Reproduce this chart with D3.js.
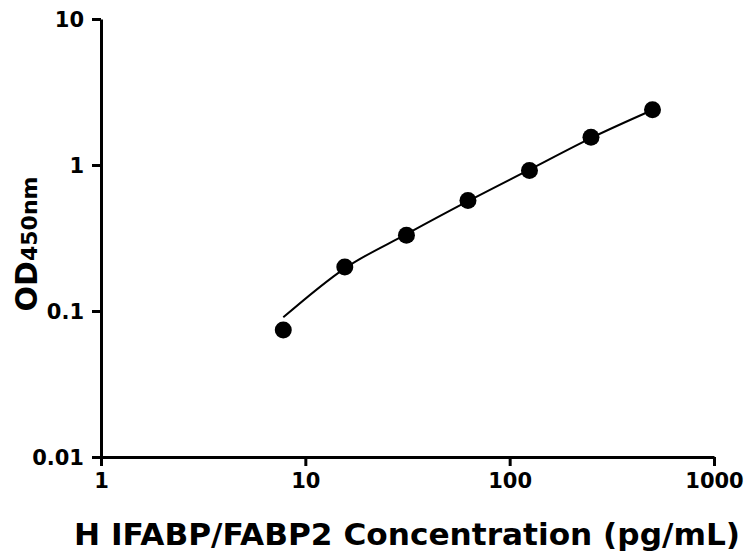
<!DOCTYPE html>
<html>
<head>
<meta charset="utf-8">
<script src="https://cdn.jsdelivr.net/npm/d3@7"></script>
<style>
  body { margin: 0; background: #fff; }
  text { font-family: "DejaVu Sans", sans-serif; font-weight: bold; fill: #000; }
</style>
</head>
<body>
<svg id="chart"></svg>
<script>
// standard concentrations (pg/mL) and measured OD450
const concentration = [7.8, 15.6, 31.25, 62.5, 125, 250, 500];
const od = [0.074, 0.200, 0.330, 0.572, 0.918, 1.55, 2.39];
// fitted curve
const curveX = [7.8, 15.6, 31.25, 62.5, 125, 250, 500];
const curveY = [0.0905, 0.196, 0.336, 0.565, 0.93, 1.53, 2.38];
const xTicks = [1, 10, 100, 1000];
const yTicks = [0.01, 0.1, 1, 10];

const width = 745, height = 553;
const margin = { top: 19, right: 31, bottom: 96, left: 101 };

const svg = d3.select("#chart").attr("width", width).attr("height", height);

const x = d3.scaleLog().domain([1, 1000]).range([margin.left, width - margin.right]);
const y = d3.scaleLog().domain([0.01, 10]).range([height - margin.bottom, margin.top]);

// 坐标轴
const xAxis = svg.append("g")
    .attr("transform", `translate(0,${height - margin.bottom})`)
    .call(d3.axisBottom(x).tickValues(xTicks).tickFormat(d3.format("d")).tickSize(9).tickSizeOuter(0).tickPadding(7));
const yAxis = svg.append("g")
    .attr("transform", `translate(${margin.left},0)`)
    .call(d3.axisLeft(y).tickValues(yTicks).tickFormat(d => String(d)).tickSize(9).tickSizeOuter(0).tickPadding(8));

[xAxis, yAxis].forEach(g => {
    g.select(".domain").attr("stroke", "#000").attr("stroke-width", 3);
    g.selectAll(".tick line").attr("stroke", "#000").attr("stroke-width", 3);
    g.selectAll(".tick text").attr("font-size", 21).attr("font-family", "DejaVu Sans").attr("font-weight", "bold").attr("fill", "#000");
});
yAxis.selectAll(".tick text").attr("dy", "0.36em");

// 拟合曲线
const line = d3.line()
    .x(d => x(d[0]))
    .y(d => y(d[1]))
    .curve(d3.curveMonotoneX);

svg.append("path")
    .datum(curveX.map((c, i) => [c, curveY[i]]))
    .attr("fill", "none")
    .attr("stroke", "#000")
    .attr("stroke-width", 2)
    .attr("d", line);

// 数据点
svg.selectAll(".pt")
    .data(concentration.map((c, i) => [c, od[i]]))
    .enter()
    .append("circle")
    .attr("class", "pt")
    .attr("cx", d => x(d[0]))
    .attr("cy", d => y(d[1]))
    .attr("r", 8.5)
    .attr("fill", "#000");

// 轴标题
svg.append("text")
    .attr("x", 74)
    .attr("y", 545)
    .attr("font-size", 31)
    .attr("textLength", 666)
    .attr("lengthAdjust", "spacingAndGlyphs")
    .text("H IFABP/FABP2 Concentration (pg/mL)");

const yt = svg.append("text")
    .attr("transform", "translate(37,244) rotate(-90)")
    .attr("text-anchor", "middle");
yt.append("tspan").attr("font-size", 30).text("OD");
yt.append("tspan").attr("font-size", 22).text("450nm");
</script>
</body>
</html>
